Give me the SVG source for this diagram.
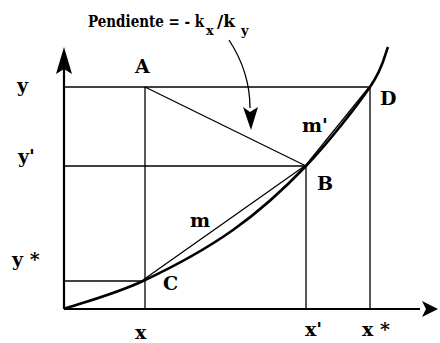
<svg xmlns="http://www.w3.org/2000/svg" width="440" height="343" viewBox="0 0 440 343">
<style>
.ln{stroke:#000;stroke-width:1.3;fill:none}
.ax{stroke:#000;stroke-width:2.2;fill:none}
.cv{stroke:#000;stroke-width:2.6;fill:none}
text{font-family:"DejaVu Serif","Liberation Serif",serif;font-weight:bold;fill:#000}
.t{font-size:19px}
.s{font-size:13px}
</style>
<rect width="440" height="343" fill="#fff"/>
<g id="connectors">
<line class="ax" x1="64" y1="309" x2="64" y2="66"/>
<polygon points="64,47 72,74 64,69 56,74" fill="#000"/>
<line class="ax" x1="64" y1="309" x2="420" y2="309"/>
<polygon points="438,309 422,301 426,309 422,317" fill="#000"/>
<line class="ln" x1="64" y1="87" x2="370" y2="87"/>
<line class="ln" x1="64" y1="166" x2="306" y2="166"/>
<line class="ln" x1="64" y1="281" x2="143" y2="281"/>
<line class="ln" x1="145" y1="87" x2="145" y2="309"/>
<line class="ln" x1="306" y1="166" x2="306" y2="309"/>
<line class="ln" x1="370" y1="87" x2="370" y2="309"/>
<line class="ln" x1="145" y1="87" x2="306" y2="166"/>
<line class="ln" x1="143" y1="280" x2="306" y2="165"/>
<line class="ln" x1="306" y1="165" x2="370" y2="86"/>
<path class="cv" d="M64,309 C77.2,304.3 114.8,294.2 143,281 C171.2,267.8 205.8,249.2 233,230 C260.2,210.8 283.2,189.8 306,166 C328.8,142.2 356.3,106.8 370,87 C383.7,67.2 385,53.7 388,47"/>
<path class="ln" d="M229,40 Q250,72 250,108"/>
<polygon points="243,107 250,112 258,107 251,130" fill="#000"/>
</g>
<g id="label-pendiente">
<text font-size="17"><tspan x="88" y="27" textLength="116" lengthAdjust="spacingAndGlyphs">Pendiente = - k</tspan><tspan class="s" x="206" y="35">x</tspan><tspan x="217" y="27">/k</tspan><tspan class="s" x="241" y="35">y</tspan></text>
</g>
<g id="node-A"><text class="t" x="135" y="73">A</text></g>
<g id="node-B"><text class="t" x="317" y="190">B</text></g>
<g id="node-C"><text class="t" x="163" y="290">C</text></g>
<g id="node-D"><text class="t" x="380" y="105">D</text></g>
<g id="label-m"><text class="t" x="190" y="227">m</text></g>
<g id="label-mp"><text class="t" x="302" y="132">m'</text></g>
<g id="axis-labels">
<text class="t" x="17" y="92">y</text>
<text class="t" x="18" y="163">y'</text>
<text class="t" x="12" y="266">y *</text>
<text class="t" x="135" y="339">x</text>
<text class="t" x="305" y="336">x'</text>
<text class="t" x="362" y="336">x *</text>
</g>
</svg>
